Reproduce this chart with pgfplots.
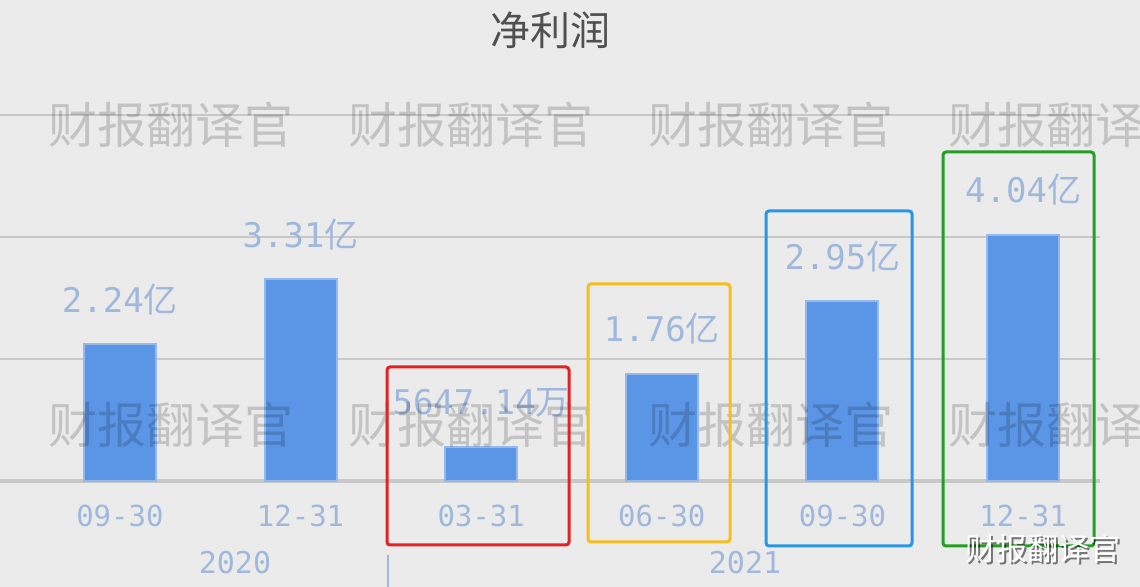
\documentclass[border=0pt]{standalone}
\usepackage{fontspec}
\setmainfont{Noto Sans CJK SC}
\newfontfamily\mono{DejaVu Sans Mono}
\usepackage{pgfplots}
\pgfplotsset{compat=1.18}
\definecolor{bg}{RGB}{235,235,235}
\definecolor{barblue}{RGB}{91,150,230}
\definecolor{baredge}{RGB}{150,185,235}
\definecolor{lbl}{RGB}{160,184,220}
\definecolor{gridc}{RGB}{200,200,200}
\definecolor{titlec}{RGB}{80,80,80}
\definecolor{boxred}{RGB}{225,35,35}
\definecolor{boxyel}{RGB}{245,190,30}
\definecolor{boxblue}{RGB}{40,150,230}
\definecolor{boxgreen}{RGB}{35,160,35}

\begin{document}
\begin{tikzpicture}
\clip (0,0) rectangle (570pt,293.5pt);
\fill[bg] (0,0) rectangle (570pt,293.5pt);
\begin{axis}[
    at={(0pt,53pt)}, anchor=south west,
    scale only axis, width=550pt, height=183pt,
    xmin=-0.664, xmax=5.426, ymin=0, ymax=6,
    clip=false,
    axis line style={draw=none},
    major tick length=0pt,
    ytick={2,4,6}, yticklabels={},
    ymajorgrids, grid style={gridc, line width=1pt},
    extra y ticks={0}, extra y tick labels={},
    extra y tick style={grid style={gridc, line width=2pt}},
    xtick={0,...,5},
    xticklabels={09-30,12-31,03-31,06-30,09-30,12-31},
    xticklabel style={font=\mono\fontsize{14.5}{16}\selectfont, text=lbl, anchor=base, yshift=-23pt},
    ybar, bar width=36pt, bar shift=0pt,
    every node near coord/.append style={font=\fontsize{17}{19}\selectfont, text=lbl, anchor=base, yshift=16pt},
]
% net profit, 亿 yuan
\addplot[fill=barblue, draw=baredge, line width=1pt,
    point meta=explicit symbolic,
    nodes near coords={\mono\pgfplotspointmeta\normalfont 亿}]
    table[meta=y] {
x y
0 2.24
1 3.31
3 1.76
4 2.95
5 4.04
};
% 2021-03-31 in 万 yuan
\addplot[fill=barblue, draw=baredge, line width=1pt,
    nodes near coords={\mono 5647.14\normalfont 万}]
    coordinates {(2,0.564714)};
\end{axis}
\begin{scope}[x=0.5pt, y=-0.5pt, yshift=293.5pt]
\node[text=titlec, font=\fontsize{20}{22}\selectfont] at (550,30) {净利润};
\foreach \X in {48,348,648,948}
  \foreach \Y in {125,425}
    \node[anchor=west, inner sep=0pt, text=black, opacity=0.17, font=\fontsize{24.5}{26}\selectfont] at (\X,\Y) {财报翻译官};
\draw[boxred, line width=1.5pt, rounded corners=1.5pt] (387,367) rectangle (569,545);
\draw[boxyel, line width=1.5pt, rounded corners=1.5pt] (588,284) rectangle (730,542);
\draw[boxblue, line width=1.5pt, rounded corners=1.5pt] (766,211) rectangle (912,546);
\draw[boxgreen, line width=1.5pt, rounded corners=1.5pt] (943,152) rectangle (1094,546);
\node[text=lbl, font=\mono\fontsize{15}{17}\selectfont] at (235,563) {2020};
\node[text=lbl, font=\mono\fontsize{15}{17}\selectfont] at (745,563) {2021};
\draw[lbl, line width=1pt] (388,555) -- (388,587);
\node[text=black, opacity=0.5, font=\fontsize{15.5}{17}\selectfont] at (1045,551) {财报翻译官};
\node[text=white, font=\fontsize{15.5}{17}\selectfont] at (1043,549) {财报翻译官};
\end{scope}
\end{tikzpicture}
\end{document}
